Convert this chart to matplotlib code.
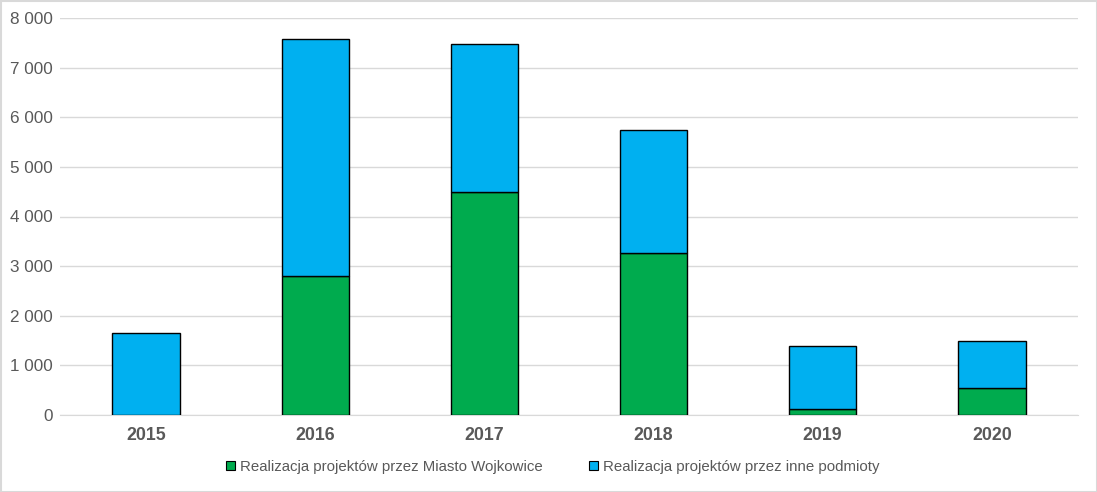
import matplotlib
matplotlib.use("Agg")
import matplotlib.pyplot as plt
import numpy as np
from matplotlib.patches import Rectangle

years = ["2015", "2016", "2017", "2018", "2019", "2020"]
miasto = [0, 2800, 4500, 3270, 120, 545]
inne = [1650, 4780, 2980, 2480, 1270, 945]
labels = ["Realizacja projektów przez Miasto Wojkowice",
          "Realizacja projektów przez inne podmioty"]
colors = ["#00AB4E", "#00B0F0"]

plt.rcParams['font.family'] = ['Liberation Sans', 'DejaVu Sans']

fig = plt.figure(figsize=(10.97, 4.92), dpi=100)
ax = fig.add_axes([60/1097, 1 - 415/492, (1078-60)/1097, (415-18)/492])

x = np.arange(len(years))
ax.bar(x, miasto, width=0.4, color=colors[0], edgecolor="black", linewidth=1.0, label=labels[0], zorder=3)
ax.bar(x, inne, width=0.4, bottom=miasto, color=colors[1], edgecolor="black", linewidth=1.0, label=labels[1], zorder=3)

ax.set_xlim(-0.51, 5.51)
ax.set_ylim(0, 8000)
ax.set_yticks(range(0, 8001, 1000))
ax.set_yticklabels([f"{v:,}".replace(",", " ") for v in range(0, 8001, 1000)], fontsize=12.3, color="#595959")
ax.set_xticks(x)
ax.set_xticklabels(years, fontsize=12.8, fontweight="bold", color="#595959")
ax.grid(axis="y", color="#D9D9D9", linewidth=1.0, zorder=0)
for s in ["top", "right", "left"]:
    ax.spines[s].set_visible(False)
ax.spines["bottom"].set_color("#D9D9D9")
ax.tick_params(axis="both", length=0)
ax.tick_params(axis="y", pad=5)
ax.tick_params(axis="x", pad=9)

leg = ax.legend(loc="center", bbox_to_anchor=(0.484, -0.13), ncol=2, frameon=False,
                fontsize=10.8, handlelength=0.6, handleheight=0.6, handletextpad=0.3,
                columnspacing=3.1, labelcolor="#595959")
for h in leg.legend_handles:
    h.set_linewidth(0.8)

fig.patches.append(Rectangle((0.5/1097, 0.5/492), 1 - 1/1097, 1 - 1/492, transform=fig.transFigure,
                             fill=False, edgecolor="#D9D9D9", linewidth=1.5))
fig.savefig("out.png", dpi=100)
